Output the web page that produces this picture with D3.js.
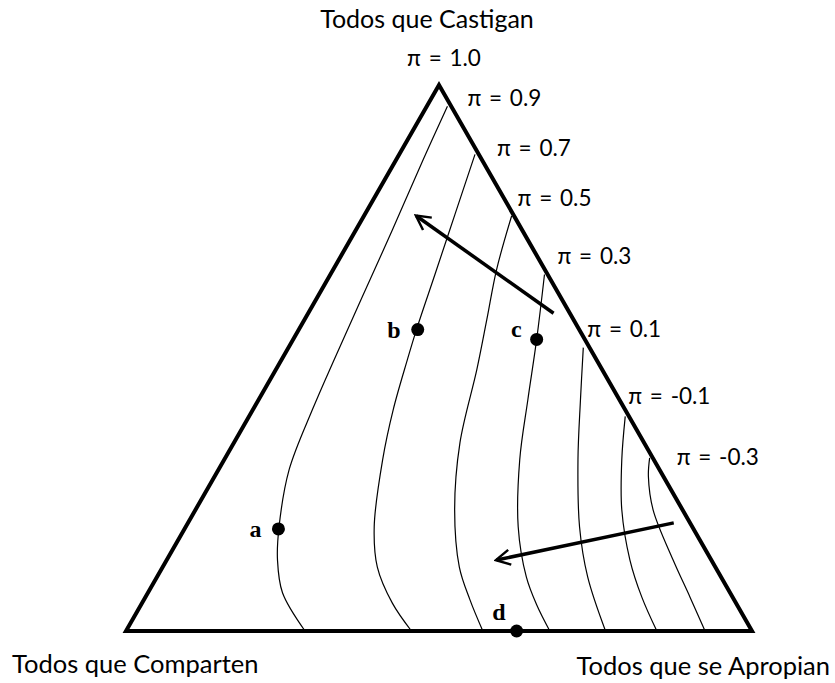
<!DOCTYPE html>
<html>
<head>
<meta charset="utf-8">
<script src="https://cdn.jsdelivr.net/npm/d3@7"></script>
<style>
  body { margin: 0; background: #fff; }
  svg { display: block; }
  .lbl { font-family: Lato, "Open Sans", sans-serif; fill: #000; }
  .pt { font-family: "Liberation Serif", serif; font-weight: bold; fill: #000; }
</style>
</head>
<body>
<div id="chart"></div>
<script>
// ternary points as [share castigan, share apropian]
const piLevels = [0.9, 0.7, 0.5, 0.3, 0.1, -0.1, -0.3];
const curve09 = [[.961,.033],[.864,.043],[.736,.058],[.607,.072],[.497,.084],[.406,.095],[.295,.113],[.191,.149],[.130,.177],[.070,.215],[0,.286]];
const curve07 = [[.873,.121],[.763,.144],[.653,.167],[.552,.188],[.497,.201],[.406,.224],[.314,.253],[.191,.301],[.117,.343],[.051,.400],[0,.456]];
const curve05 = [[.760,.236],[.662,.261],[.571,.291],[.479,.321],[.345,.361],[.222,.414],[.117,.474],[.057,.521],[0,.570]];
const curve03 = [[.653,.342],[.534,.389],[.424,.430],[.314,.472],[.191,.531],[.099,.590],[.048,.632],[0,.677]];
const curve01 = [[.519,.471],[.424,.514],[.314,.565],[.191,.629],[.099,.688],[0,.766]];
const curveM01 = [[.393,.601],[.314,.635],[.222,.681],[.130,.740],[.062,.793],[0,.848]];
const curveM03 = [[.317,.678],[.283,.693],[.222,.731],[.130,.809],[.062,.870],[0,.925]];
const isoCurves = [curve09, curve07, curve05, curve03, curve01, curveM01, curveM03];

const pointNames = ['a', 'b', 'c', 'd'];
const pointValues = [[.187,.150],[.552,.190],[.534,.389],[0,.624]];

const arrowStarts = [[.582,.392],[.198,.776]];
const arrowEnds = [[.760,.084],[.130,.527]];

const cornerLabels = ['Todos que Castigan', 'Todos que Comparten', 'Todos que se Apropian'];

const width = 835, height = 683;
const x = d3.scaleLinear().domain([0, 1]).range([126, 752]);
const y = d3.scaleLinear().domain([0, 1]).range([631, 85]);
const px = d => x(d[1] + d[0] / 2);
const py = d => y(d[0]);

const svg = d3.select('#chart').append('svg')
    .attr('width', width)
    .attr('height', height);

svg.append('defs').append('marker')
    .attr('id', 'head')
    .attr('viewBox', '0 0 10 10')
    .attr('refX', 8.6).attr('refY', 5)
    .attr('markerWidth', 5.4).attr('markerHeight', 5.4)
    .attr('orient', 'auto')
    .append('path')
    .attr('d', 'M1.5,1 L9,5 L1.5,9')
    .attr('fill', 'none').attr('stroke', '#000').attr('stroke-width', 1.3);

const line = d3.line().x(px).y(py).curve(d3.curveCatmullRom.alpha(0.5));

svg.selectAll('path.iso')
    .data(isoCurves)
    .join('path')
    .attr('class', 'iso')
    .attr('d', line)
    .attr('fill', 'none')
    .attr('stroke', '#000')
    .attr('stroke-width', 1.2);

// triangle frame
const corners = [[1, 0], [0, 0], [0, 1]];
svg.append('path')
    .attr('d', d3.line().x(px).y(py)(corners) + 'Z')
    .attr('fill', 'none')
    .attr('stroke', '#000')
    .attr('stroke-width', 4)
    .attr('stroke-linejoin', 'miter');

// arrows
svg.selectAll('line.arrow')
    .data(arrowStarts)
    .join('line')
    .attr('class', 'arrow')
    .attr('x1', d => px(d)).attr('y1', d => py(d))
    .attr('x2', (d, i) => px(arrowEnds[i])).attr('y2', (d, i) => py(arrowEnds[i]))
    .attr('stroke', '#000')
    .attr('stroke-width', 3.5)
    .attr('marker-end', 'url(#head)');

// points
svg.selectAll('circle.pt')
    .data(pointValues)
    .join('circle')
    .attr('cx', px).attr('cy', py)
    .attr('r', 6.5)
    .attr('fill', '#000');

const ptOffsets = [[-17, 8], [-17, 8], [-15, -2], [-11, -11]];
svg.selectAll('text.pt')
    .data(pointValues)
    .join('text')
    .attr('class', 'pt')
    .attr('x', (d, i) => px(d) + ptOffsets[i][0])
    .attr('y', (d, i) => py(d) + ptOffsets[i][1])
    .attr('text-anchor', 'end')
    .attr('font-size', 24)
    .text((d, i) => pointNames[i]);

// pi labels next to the top end of each curve
const lblOffsets = [[20, 0], [22, 2], [6, -10], [13, -10], [4, -11], [3, -12], [27, 7]];
svg.selectAll('text.pi')
    .data(piLevels)
    .join('text')
    .attr('class', 'lbl pi')
    .attr('x', (d, i) => px(isoCurves[i][0]) + lblOffsets[i][0])
    .attr('y', (d, i) => py(isoCurves[i][0]) + lblOffsets[i][1])
    .attr('font-size', 22.5)
    .attr('word-spacing', 2)
    .text(d => 'π = ' + d.toFixed(1));

svg.append('text')
    .attr('class', 'lbl')
    .attr('x', px(corners[0]) + 5).attr('y', py(corners[0]) - 19)
    .attr('text-anchor', 'middle')
    .attr('font-size', 22.5)
    .attr('word-spacing', 2)
    .text('π = 1.0');

svg.append('text')
    .attr('class', 'lbl')
    .attr('x', px(corners[0]) - 12).attr('y', 28)
    .attr('text-anchor', 'middle')
    .attr('font-size', 25)
    .text(cornerLabels[0]);

svg.append('text')
    .attr('class', 'lbl')
    .attr('x', 12).attr('y', 673)
    .attr('font-size', 25.5)
    .text(cornerLabels[1]);

svg.append('text')
    .attr('class', 'lbl')
    .attr('x', 830).attr('y', 675)
    .attr('text-anchor', 'end')
    .attr('font-size', 25.5)
    .text(cornerLabels[2]);
</script>
</body>
</html>
